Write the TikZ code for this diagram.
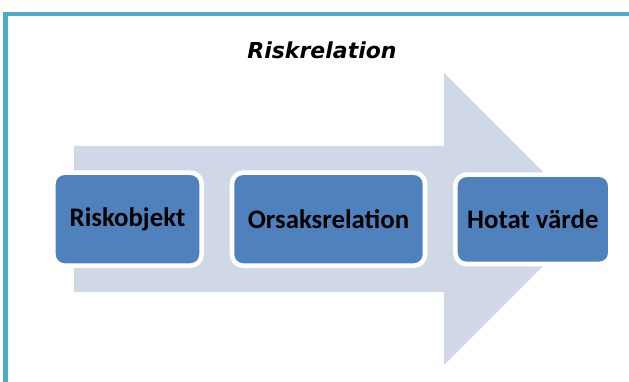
\documentclass[tikz,border=0pt]{standalone}
\usepackage{fontspec}
\setmainfont{Carlito}
\newfontfamily\titlefont{DejaVu Sans}
\definecolor{frame}{HTML}{4BACC6}
\definecolor{boxblue}{HTML}{4F81BD}
\definecolor{arrowfill}{HTML}{D0D8E8}
\begin{document}
\begin{tikzpicture}[x=1pt,y=-1pt,
  stagebox/.style={draw=white, line width=4.6pt, fill=boxblue, rounded corners=11pt,
    inner sep=0pt, font=\fontsize{26.8}{30}\selectfont\bfseries, text=black},
  titletext/.style={font=\titlefont\fontsize{22}{26}\selectfont\bfseries\itshape, text=black}]
\useasboundingbox (0,0) rectangle (629,382);
\fill[white] (0,0) rectangle (629,382);
% frame
\draw[frame, line width=4.8pt] (5.5,384) -- (5.5,14) -- (631,14);
% title
\node[titletext] (title) at (322,50) {Riskrelation};
% big arrow
\fill[arrowfill] (74,146) -- (444,146) -- (444,73) -- (590,219) -- (444,365) -- (444,292) -- (74,292) -- cycle;
% boxes
\node[stagebox, minimum width=148.2pt, minimum height=92.9pt] (a) at (127.5,219.15) {Riskobjekt};
\node[stagebox, minimum width=193pt, minimum height=92.9pt] (b) at (328.5,219.15) {Orsaksrelation};
\node[stagebox, minimum width=154.9pt, minimum height=89.3pt] (c) at (532.85,219.35) {Hotat värde};
\end{tikzpicture}
\end{document}
